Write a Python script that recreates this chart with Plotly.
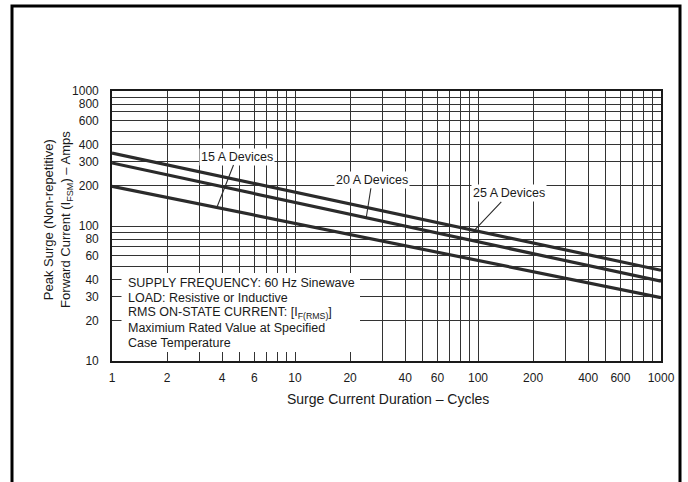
import numpy as np
import plotly.graph_objects as go

# ---- data ----
cycles = [1, 1000]
surge_15A = [197, 29.5]
surge_20A = [293, 39]
surge_25A = [347, 47]

x_tick_labels = ["1", "2", "4", "6", "10", "20", "40", "60", "100", "200", "400", "600", "1000"]
y_tick_labels = ["10", "20", "30", "40", "60", "80", "100", "200", "300", "400", "600", "800", "1000"]

note_lines = [
    "SUPPLY FREQUENCY: 60 Hz Sinewave",
    "LOAD: Resistive or Inductive",
    "RMS ON-STATE CURRENT: [I<sub>F(RMS)</sub>]",
    "Maximium Rated Value at Specified",
    "Case Temperature",
]

FONT = "Liberation Sans, Arial, Helvetica, sans-serif"
INK = "#2b2b2b"


def grid_vals(lo_exp, hi_exp):
    vals = []
    for e in range(lo_exp, hi_exp):
        for m in range(1, 10):
            vals.append(m * 10 ** e)
    vals.append(10 ** hi_exp)
    return vals


xv = grid_vals(0, 3)
yv = grid_vals(1, 3)
xt = [str(v) if str(v) in x_tick_labels else "" for v in xv]
yt = [str(v) if str(v) in y_tick_labels else "" for v in yv]


def on_line(xs, ys, x):
    lx = np.log10(xs)
    ly = np.log10(ys)
    return float(10 ** np.interp(np.log10(x), lx, ly))


fig = go.Figure()
for ys in (surge_15A, surge_20A, surge_25A):
    fig.add_trace(go.Scatter(x=cycles, y=ys, mode="lines",
                             line=dict(color=INK, width=3.2),
                             showlegend=False, hoverinfo="skip"))

W, H = 688, 482
# plot geometry in pixels
L, R, T, B = 112, 661, 91, 361
pw, ph = R - L, B - T


def px(x):
    return (x - L) / pw


def py(y):
    return (B - y) / ph


axis_common = dict(
    type="log", showgrid=True, gridcolor="#333333", gridwidth=1.3,
    showline=True, linecolor="#1a1a1a", linewidth=1.6, mirror=True,
    zeroline=False, ticks="outside", tickcolor="rgba(0,0,0,0)",
    tickfont=dict(family=FONT, size=12, color="#1a1a1a"),
)

fig.update_xaxes(range=[0, 3], tickmode="array", tickvals=xv, ticktext=xt,
                 ticklen=5, **axis_common)
fig.update_yaxes(range=[1, 3], tickmode="array", tickvals=yv, ticktext=yt,
                 ticklen=9, **axis_common)

annotations = []
# device labels with leader lines
labels = [
    ("15 A Devices", surge_15A, 3.74, 20, -51),
    ("20 A Devices", surge_20A, 24.5, 6, -38),
    ("25 A Devices", surge_25A, 95.5, 35, -37),
]
for text, ys, xpt, ax, ay in labels:
    annotations.append(dict(
        x=np.log10(xpt), y=np.log10(on_line(cycles, ys, xpt)), xref="x", yref="y",
        text=text, showarrow=True, arrowhead=0, arrowwidth=1.1, arrowcolor=INK,
        ax=ax, ay=ay, bgcolor="white", borderpad=1,
        font=dict(family=FONT, size=12.5, color="#1a1a1a"),
    ))

# note box lines
y0 = 282.5
for i, line in enumerate(note_lines):
    annotations.append(dict(
        x=px(125.5), y=py(y0 + i * 15.1), xref="paper", yref="paper",
        xanchor="left", yanchor="middle", text=line, showarrow=False,
        font=dict(family=FONT, size=12.5, color="#1a1a1a"),
    ))

# axis titles
annotations.append(dict(
    x=px(58), y=py(220), xref="paper", yref="paper", xanchor="center", yanchor="middle",
    text="Peak Surge (Non-repetitive)<br>Forward Current (I<sub>FSM</sub>) – Amps",
    textangle=-90, showarrow=False,
    font=dict(family=FONT, size=13, color="#1a1a1a"),
))
annotations.append(dict(
    x=px(388), y=py(399), xref="paper", yref="paper", xanchor="center", yanchor="middle",
    text="Surge Current Duration – Cycles", showarrow=False,
    font=dict(family=FONT, size=14, color="#1a1a1a"),
))

shapes = [
    # white note box covering the grid
    dict(type="rect", xref="paper", yref="paper",
         x0=px(121.5), x1=px(360), y0=py(352), y1=py(273),
         fillcolor="white", line=dict(width=0), layer="above"),
    # outer frame
    dict(type="rect", xref="paper", yref="paper",
         x0=px(12), x1=px(680), y0=py(520), y1=py(6),
         line=dict(color="black", width=3), fillcolor="rgba(0,0,0,0)", layer="above"),
]

fig.update_layout(
    width=W, height=H,
    margin=dict(l=L, r=W - R, t=T, b=H - B, pad=0),
    paper_bgcolor="white", plot_bgcolor="white",
    annotations=annotations, shapes=shapes,
    font=dict(family=FONT),
)

fig.write_html(
    "out.html",
    config={"displayModeBar": False},
    post_script="document.body.style.margin='0';document.body.style.overflow='hidden';",
)
